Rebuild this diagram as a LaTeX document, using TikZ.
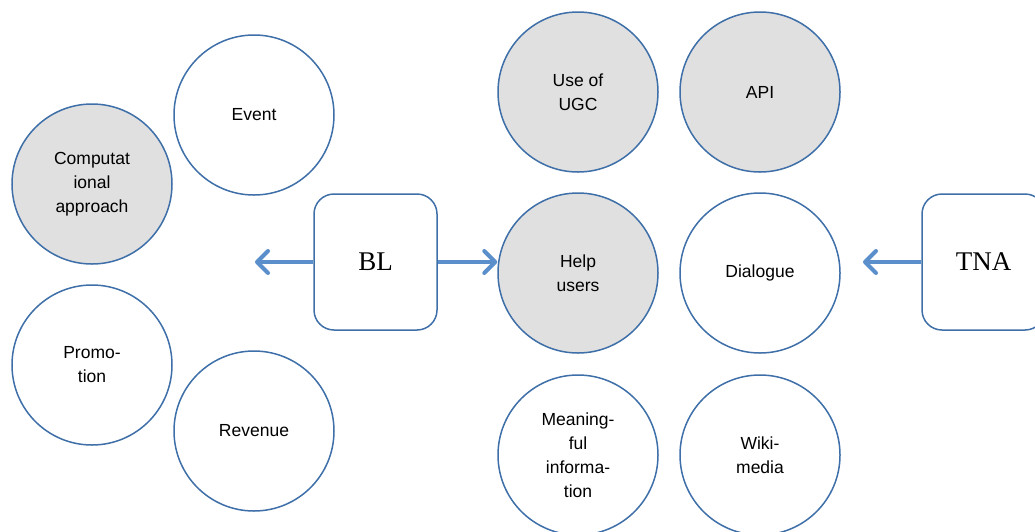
\documentclass[tikz,border=0pt]{standalone}
\usepackage{fontspec}
\setmainfont{Liberation Serif}
\setsansfont{Liberation Sans}
\usetikzlibrary{arrows.meta}
\definecolor{lineblue}{HTML}{3E6FA8}
\definecolor{arrowblue}{HTML}{5B8FCB}
\definecolor{bubblegray}{HTML}{E0E0E0}
\tikzset{
  bubble/.style={circle, draw=lineblue, line width=1.5pt, minimum size=160pt,
    inner sep=0pt, align=center, font=\sffamily\fontsize{17.5}{24}\selectfont},
  grey bubble/.style={bubble, fill=bubblegray},
  orgbox/.style={rectangle, rounded corners=20pt, draw=lineblue, line width=1.5pt,
    minimum width=123pt, minimum height=136pt, font=\fontsize{27}{30}\selectfont},
  link/.style={arrowblue, line width=4pt, -{Straight Barb[length=11pt,width=22pt,round]}}
}

\begin{document}
\begin{tikzpicture}[x=1pt,y=-1pt]
  \useasboundingbox (0,0) rectangle (1035,531);
  % left group
  \node[bubble] (event) at (254,115) {Event};
  \node[grey bubble] (comp) at (92,184) {Computat\\ional\\approach};
  \node[bubble] (promo) at (92,365) {Promo-\\tion};
  \node[bubble] (revenue) at (254,431) {Revenue};
  % right group
  \node[grey bubble] (ugc) at (578,92) {Use of\\UGC};
  \node[grey bubble] (api) at (760,92) {API};
  \node[grey bubble] (help) at (578,273) {Help\\users};
  \node[bubble] (dialogue) at (760,273) {Dialogue};
  \node[bubble] (meaning) at (578,455) {Meaning-\\ful\\informa-\\tion};
  \node[bubble] (wiki) at (760,455) {Wiki-\\media};
  % the two institutions
  \node[orgbox] (bl) at (375.5,262) {BL};
  \node[orgbox] (tna) at (983.5,262) {TNA};
  \coordinate (bltip) at (255,262);
  \coordinate (tnatip) at (863,262);
  \draw[link] (bl.west) -- (bltip);
  \draw[link] (bl.east) -- (bl.east -| help.west);
  \draw[link] (tna.west) -- (tnatip);
\end{tikzpicture}
\end{document}
